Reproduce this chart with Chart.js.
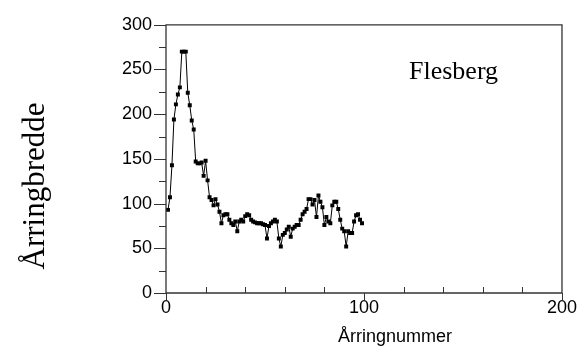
<!DOCTYPE html>
<html>
<head>
<meta charset="utf-8">
<script src="https://cdn.jsdelivr.net/npm/chart.js@4.4.1/dist/chart.umd.min.js"></script>
<style>
  html, body { margin: 0; padding: 0; background: #fff; }
  #wrap { width: 581px; height: 352px; position: relative; }
</style>
</head>
<body>
<div id="wrap"><canvas id="c" width="581" height="352"></canvas></div>
<script>
// ---- data ----
const ringNumbers = [
  1,2,3,4,5,6,7,8,9,10,11,12,13,14,15,16,17,18,19,20,
  21,22,23,24,25,26,27,28,29,30,31,32,33,34,35,36,37,38,39,40,
  41,42,43,44,45,46,47,48,49,50,51,52,53,54,55,56,57,58,59,60,
  61,62,63,64,65,66,67,68,69,70,71,72,73,74,75,76,77,78,79,80,
  81,82,83,84,85,86,87,88,89,90,91,92,93,94,95,96,97,98,99
];
const ringWidths = [
  93,107,143,194,211,222,230,270,270,270,224,210,193,183,147,145,145,146,131,148,
  126,107,104,98,105,99,91,78,87,88,88,82,78,76,80,69,80,82,80,86,
  88,87,82,80,79,78,78,78,77,76,61,75,78,80,82,80,61,52,65,67,
  71,74,63,72,74,76,76,82,88,91,94,105,105,99,104,85,109,102,96,76,
  85,80,78,98,102,102,94,82,72,69,52,69,67,67,80,87,88,82,78
];
const xTickLabels = [0, 100, 200];
const yTickLabels = [0, 50, 100, 150, 200, 250, 300];
const siteName = "Flesberg";
const xTitle = "Årringnummer";
const yTitle = "Årringbredde";

const points = ringNumbers.map((x, i) => ({ x: x, y: ringWidths[i] }));

const decor = {
  id: 'decor',
  afterDraw(chart) {
    const ctx = chart.ctx;
    const xs = chart.scales.x, ys = chart.scales.y;
    const a = chart.chartArea;
    ctx.save();
    // frame
    ctx.strokeStyle = '#333';
    ctx.lineWidth = 1.3;
    ctx.beginPath();
    ctx.moveTo(a.left, a.top); ctx.lineTo(a.right, a.top);
    ctx.lineTo(a.right, a.bottom); ctx.lineTo(a.left, a.bottom); ctx.closePath();
    ctx.stroke();
    // x ticks
    ctx.lineWidth = 1;
    for (let v = 0; v <= 200; v += 20) {
      const px = Math.round(xs.getPixelForValue(v)) + 0.5;
      ctx.beginPath();
      if (v % 100 === 0) { ctx.moveTo(px, a.bottom); ctx.lineTo(px, a.bottom + 7); }
      else { ctx.moveTo(px, a.bottom); ctx.lineTo(px, a.bottom - 6); }
      ctx.stroke();
    }
    // y ticks
    for (let v = 0; v <= 300; v += 25) {
      const py = Math.round(ys.getPixelForValue(v)) + 0.5;
      ctx.beginPath();
      const len = (v % 50 === 0) ? 12 : 7;
      ctx.moveTo(a.left - len, py); ctx.lineTo(a.left, py);
      ctx.stroke();
    }
    // site label
    ctx.fillStyle = '#000';
    ctx.font = '26px "Liberation Serif", "Times New Roman", serif';
    ctx.textAlign = 'left';
    ctx.textBaseline = 'alphabetic';
    ctx.fillText(siteName, 409, 79);
    // x title
    ctx.font = '18px "Liberation Sans", Arial, sans-serif';
    ctx.textAlign = 'center';
    ctx.textBaseline = 'middle';
    ctx.fillText(xTitle, 395, 337);
    // y title
    ctx.translate(36, 186);
    ctx.rotate(-Math.PI / 2);
    ctx.font = '31px "Liberation Serif", "Times New Roman", serif';
    ctx.fillText(yTitle, 0, 0);
    ctx.restore();
  }
};

new Chart(document.getElementById('c'), {
  type: 'line',
  data: {
    datasets: [{
      data: points,
      borderColor: '#000',
      backgroundColor: '#000',
      borderWidth: 1,
      pointStyle: 'rect',
      pointRadius: 2.8,
      pointBorderWidth: 0,
      tension: 0,
      fill: false
    }]
  },
  options: {
    responsive: false,
    animation: false,
    events: [],
    layout: { padding: { top: 19, right: 18, left: 0, bottom: 0 } },
    plugins: { legend: { display: false }, tooltip: { enabled: false } },
    scales: {
      x: {
        type: 'linear',
        min: 0, max: 200,
        afterBuildTicks(s) { s.ticks = xTickLabels.map(v => ({ value: v })); },
        afterFit(s) { s.height = 59; },
        grid: { display: false, drawTicks: false },
        border: { display: false },
        ticks: {
          padding: 4,
          color: '#000',
          maxRotation: 0,
          font: { family: '"Liberation Sans", Arial, sans-serif', size: 18 }
        }
      },
      y: {
        type: 'linear',
        min: 0, max: 300,
        afterBuildTicks(s) { s.ticks = yTickLabels.map(v => ({ value: v })); },
        afterFit(s) { s.width = 166; },
        grid: { display: false, drawTicks: false },
        border: { display: false },
        ticks: {
          padding: 14,
          color: '#000',
          font: { family: '"Liberation Sans", Arial, sans-serif', size: 18 }
        }
      }
    }
  },
  plugins: [decor]
});
</script>
</body>
</html>
